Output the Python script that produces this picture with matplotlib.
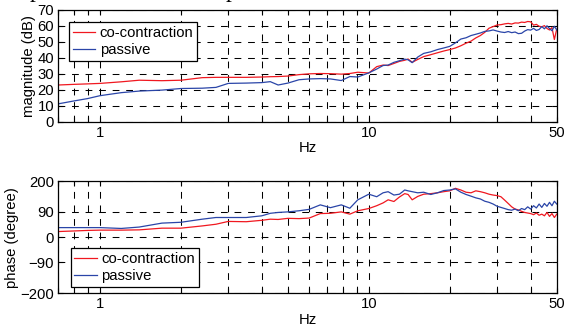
import matplotlib
matplotlib.use("Agg")
import matplotlib.pyplot as plt
from matplotlib.ticker import FixedLocator, NullFormatter

plt.rcParams['font.family'] = ['Liberation Sans', 'DejaVu Sans']
plt.rcParams['font.size'] = 10.7

# frequency axis (Hz)
freq = [0.7, 0.8, 0.9, 1.0, 1.2, 1.4, 1.7, 2.0, 2.4, 2.7, 3.0, 3.5, 4.0, 4.3, 4.6,
        5.0, 5.5, 6.0, 6.6, 7.2, 7.9, 8.5, 9.1, 10.0, 10.7, 11.3, 11.8, 12.4, 13.0,
        13.6, 14.0, 14.5, 15.2, 16.0, 17.0, 18.0, 19.0,
        20, 21, 22, 23, 24, 25, 26, 27, 28, 29, 30, 31, 32, 33, 34, 35, 36, 37, 38,
        39, 40, 41, 42, 43, 44, 45, 46, 47, 48, 49, 50]

# magnitude (dB)
mag_cocon = [23, 23.4, 23.7, 24, 25, 26, 25.7, 26, 27.6, 27.8, 27.8, 27.8, 28, 28.2, 28.3,
             28.6, 29.5, 30, 30.2, 30.1, 29.8, 30.2, 31, 30.5, 34.5, 35.5, 35.2, 36.5, 37.8,
             38.5, 39.3, 37.2, 39, 40.8, 42, 43.2, 44.3,
             45.2, 46.2, 47.6, 49.2, 50.5, 52.5, 54, 56, 58.6, 59.6, 60.6, 60.8, 61.3, 61.6,
             61.2, 61.9, 61.8, 62.4, 62.2, 62.8, 62.6, 60.5, 61, 59.8, 59.5, 60.2, 58.4,
             57.5, 59, 51.5, 58]
mag_passive = [11.2, 13, 14.5, 16.3, 18.2, 19.2, 19.8, 20.8, 21, 21.5, 24, 24.2, 24.5, 25.1, 23,
               24.2, 26.3, 26.8, 27, 26.8, 25.8, 28.3, 28, 30.6, 33, 35.2, 35.5, 37.2, 38.2,
               39.2, 38.8, 37, 40.5, 42.8, 43.8, 45.2, 46.2,
               47.2, 49.4, 51.8, 52.6, 54, 54.8, 55.6, 56.6, 56.9, 57.5, 56.8, 56.2, 55.9,
               56.5, 55.8, 56.2, 55.2, 55.4, 56.8, 57.7, 57.4, 58.5, 57.2, 57.8, 59.6, 58.2,
               60.1, 58.4, 57, 59.8, 57.5]

# phase (degree)
ph_cocon = [20, 22, 24, 25, 25, 26, 32, 32, 40, 46, 56, 55, 60, 64, 63,
            67, 66, 68, 84, 85, 90, 82, 94, 102, 112, 122, 133, 127, 143,
            155, 152, 133, 145, 153, 155, 158, 162,
            165, 174, 168, 160, 158, 165, 162, 158, 153, 150, 148, 144, 132, 120, 108,
            100, 97, 92, 88, 86, 84, 80, 86, 78, 82, 76, 88, 74, 84, 70, 82]
ph_passive = [34, 34, 34, 34, 31, 36, 50, 53, 64, 70, 70, 70, 76, 85, 88,
              90, 94, 99, 115, 105, 115, 103, 133, 153, 144, 158, 162, 150, 153,
              168, 165, 162, 158, 160, 152, 158, 166,
              168, 172, 160, 152, 146, 140, 136, 128, 124, 118, 110, 106, 102, 98, 96,
              100, 94, 102, 98, 108, 100, 112, 104, 118, 106, 120, 110, 124, 112, 128, 118]

red = '#f01820'
blue = '#2a45a8'
labels = ['co-contraction', 'passive']

fig = plt.figure(figsize=(5.64, 3.30), dpi=100)
ax1 = fig.add_axes([0.1034, 0.6312, 0.8837, 0.3385])
ax2 = fig.add_axes([0.1034, 0.1112, 0.8837, 0.3403])

# descenders of a cut-off caption above the figure (also cut off in the original)
fig.text(0.053, 1.0 + 2.5 / 330, 'p', family=['Liberation Serif', 'DejaVu Serif'],
         fontsize=17, va='baseline')
fig.text(0.400, 1.0 + 2.5 / 330, 'p', family=['Liberation Serif', 'DejaVu Serif'],
         fontsize=17, va='baseline')

minor = [0.7, 0.8, 0.9, 2, 3, 4, 5, 6, 7, 8, 9, 20, 30, 40]

def style(ax):
    ax.set_xscale('log')
    ax.set_xlim(0.7, 50)
    ax.xaxis.set_major_locator(FixedLocator([1, 10, 50]))
    ax.set_xticklabels(['1', '10', '50'])
    ax.xaxis.set_minor_locator(FixedLocator(minor))
    ax.xaxis.set_minor_formatter(NullFormatter())
    ax.tick_params(which='both', direction='in', top=True, right=True, width=0.8,
                   length=3.5)
    ax.tick_params(which='major', pad=3)
    ax.grid(True, which='both', color='black', linestyle=(0, (6.5, 6.5)), linewidth=0.75)
    for s in ax.spines.values():
        s.set_linewidth(0.9)
    ax.set_xlabel('Hz', labelpad=1)

ax1.plot(freq, mag_cocon, color=red, lw=0.9, label=labels[0])
ax1.plot(freq, mag_passive, color=blue, lw=0.9, label=labels[1])
style(ax1)
ax1.set_ylim(0, 70)
ax1.set_yticks(range(0, 71, 10))
ax1.set_ylabel('magnitude (dB)', labelpad=1)
leg1 = ax1.legend(loc='upper left', bbox_to_anchor=(0.022, 0.89), borderaxespad=0,
                  fancybox=False, framealpha=1, edgecolor='black', handlelength=1.5,
                  borderpad=0.25, labelspacing=0.2, handletextpad=0.3)
leg1.get_frame().set_linewidth(0.9)

ax2.plot(freq, ph_cocon, color=red, lw=0.9, label=labels[0])
ax2.plot(freq, ph_passive, color=blue, lw=0.9, label=labels[1])
style(ax2)
ax2.set_ylim(-200, 200)
ax2.set_yticks([-200, -90, 0, 90, 200])
ax2.set_ylabel('phase (degree)', labelpad=1)
leg2 = ax2.legend(loc='lower left', bbox_to_anchor=(0.025, 0.06), borderaxespad=0,
                  fancybox=False, framealpha=1, edgecolor='black', handlelength=1.5,
                  borderpad=0.25, labelspacing=0.2, handletextpad=0.3)
leg2.get_frame().set_linewidth(0.9)

fig.savefig('out.png', dpi=100)
